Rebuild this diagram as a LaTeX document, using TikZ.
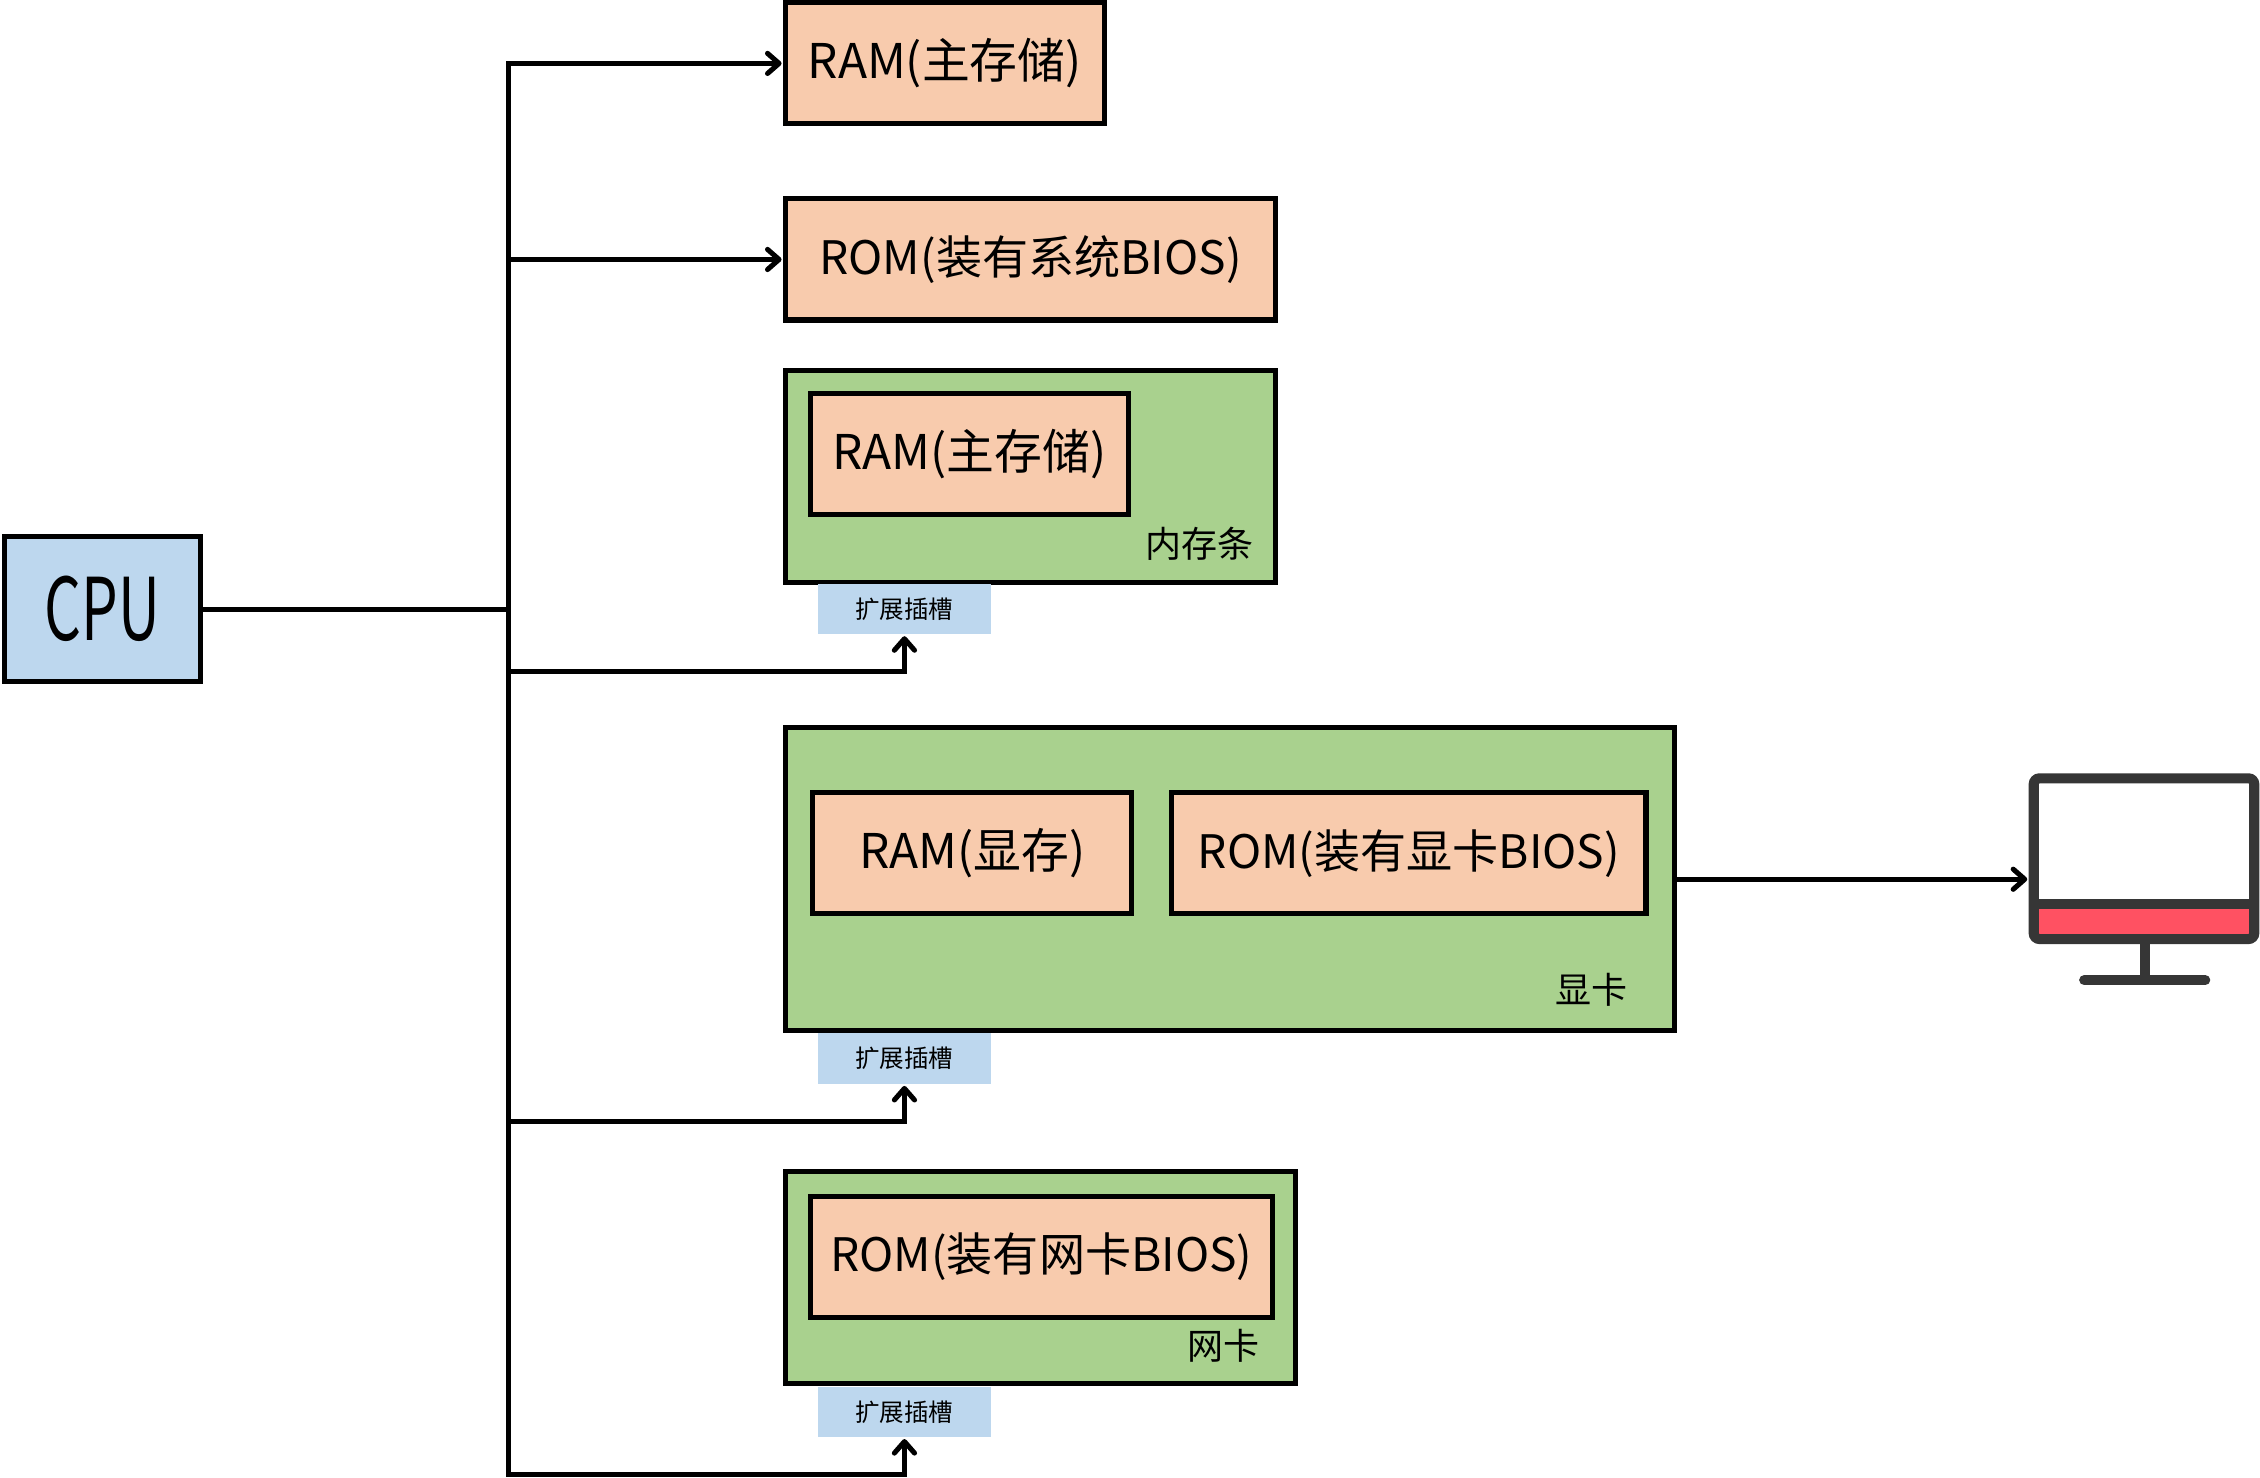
\documentclass[tikz,border=0pt]{standalone}
\usepackage{fontspec}
\setmainfont{Noto Sans CJK SC}
\usetikzlibrary{arrows.meta}

\tikzset{
  cpubox/.style={draw,line width=1.75pt,fill=cpublue,inner sep=0pt},
  membox/.style={draw,line width=1.75pt,fill=peach,inner sep=0pt,minimum height=42pt,font=\fontsize{16}{18}\selectfont},
  rambox/.style={membox,minimum width=110.5pt,font=\fontsize{16.6}{18}\selectfont},
  cardbox/.style={draw,line width=1.75pt,fill=cardgreen,inner sep=0pt},
  slotbox/.style={fill=cpublue,inner sep=0pt,minimum width=60pt,minimum height=17.5pt,font=\fontsize{8.5}{10}\selectfont},
  cardlabel/.style={inner sep=0pt,font=\fontsize{12.5}{14}\selectfont},
  bus/.style={line width=1.75pt},
  screen/.style={line width=3.5pt,draw=screengrey}
}
\definecolor{cpublue}{HTML}{BDD7EE}
\definecolor{peach}{HTML}{F8CBAD}
\definecolor{cardgreen}{HTML}{A9D18E}
\definecolor{screengrey}{HTML}{363636}
\definecolor{screenred}{HTML}{FF5162}

\begin{document}
\begin{tikzpicture}[x=.5pt,y=-.5pt,>={Straight Barb[length=4pt,width=7pt,round]}]
  \useasboundingbox (0,0) rectangle (1568,1025);
  % Karten
  \node[cardbox,minimum width=170pt,minimum height=73.5pt] (memcard) at (715,330.5) {};
  \node[cardbox,minimum width=308.5pt,minimum height=105pt] (gpucard) at (853.5,610) {};
  \node[cardbox,minimum width=177pt,minimum height=73.5pt] (niccard) at (722,886.5) {};
  \node[cardlabel] (memlabel) at (832,377) {内存条};
  \node[cardlabel] (gpulabel) at (1104,687) {显卡};
  \node[cardlabel] (niclabel) at (849,934) {网卡};
  % Speicher
  \node[cpubox,minimum width=68pt,minimum height=50.5pt] (cpu) at (71,422.5) {\fontsize{30}{32}\selectfont\scalebox{.67}[1]{CPU}};
  \node[rambox] (ram) at (655.5,44) {RAM(主存储)};
  \node[membox,minimum width=170pt] (rom) at (715,180) {ROM(装有系统BIOS)};
  \node[rambox] (memram) at (672.5,315) {RAM(主存储)};
  \node[rambox] (gpuram) at (674.5,592) {RAM(显存)};
  \node[membox,minimum width=164.5pt] (gpurom) at (977.5,592) {ROM(装有显卡BIOS)};
  \node[membox,minimum width=160.5pt] (nicrom) at (722.5,872) {ROM(装有网卡BIOS)};
  % Bus
  \coordinate (bustop) at (353,44);
  \coordinate (busrom) at (353,180);
  \coordinate (buscpu) at (353,423);
  \draw[bus] (cpu.east |- buscpu) -- (buscpu);
  \draw[bus,line cap=rect] (bustop) -- (353,1023);
  \draw[bus,->,shorten >=.5pt] (bustop) -- (ram.west);
  \draw[bus,->,shorten >=.5pt] (busrom) -- (rom.west);
  \foreach \slotname/\sloty/\busy in {slotmem/422.5/466,slotgpu/734.5/778,slotnic/979.5/1023} {
    \node[slotbox] (\slotname) at (627.5,\sloty) {扩展插槽};
    \coordinate (bus\slotname) at (353,\busy);
    \draw[bus,->,shorten >=.5pt] (bus\slotname) -| (\slotname.south);
  }
  % Monitor
  \fill[screenred] (1411,627) rectangle (1564,651);
  \draw[screen,rounded corners=2pt] (1411,540) rectangle (1564,651.5);
  \draw[screen] (1408,627) -- (1567,627);
  \draw[screen] (1488,651.5) -- (1488,680);
  \draw[screen,line cap=round] (1446,680) -- (1530,680);
  \coordinate (screenleft) at (1407,610);
  \draw[bus,->,shorten >=.25pt] (gpucard.east |- screenleft) -- (screenleft);
\end{tikzpicture}
\end{document}
